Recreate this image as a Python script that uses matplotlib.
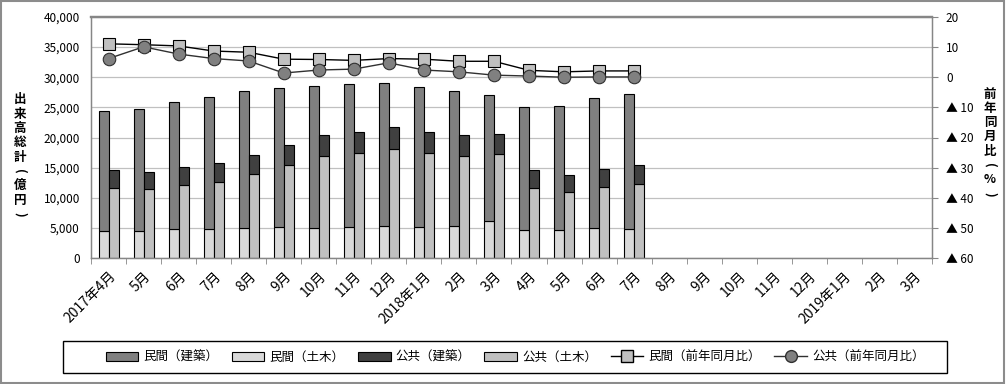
import matplotlib
matplotlib.use("Agg")
import matplotlib.pyplot as plt
import numpy as np
from matplotlib.patches import Rectangle, Patch
from matplotlib.lines import Line2D
from matplotlib.ticker import FuncFormatter, MultipleLocator, FixedLocator

plt.rcParams['font.family'] = ['Noto Sans CJK JP', 'DejaVu Sans']

months = ["2017年4月", "5月", "6月", "7月", "8月", "9月", "10月", "11月", "12月",
          "2018年1月", "2月", "3月", "4月", "5月", "6月", "7月", "8月", "9月",
          "10月", "11月", "12月", "2019年1月", "2月", "3月"]

# 億円
priv_civil = [4520, 4520, 4800, 4800, 4970, 5130, 4970, 5130, 5300, 5130, 5300, 6120, 4630, 4630, 4970, 4800]
priv_build = [19920, 20140, 21020, 21850, 22670, 23010, 23660, 23670, 23670, 23170, 22340, 20860, 20360, 20530, 21510, 22340]
pub_civil = [11590, 11420, 12080, 12580, 13900, 15390, 16880, 17380, 18040, 17380, 16880, 17210, 11590, 10920, 11750, 12250]
pub_build = [2980, 2810, 2980, 3140, 3150, 3310, 3480, 3480, 3640, 3480, 3480, 3310, 2980, 2820, 2980, 3140]
# 前年同月比 (%)
priv_yoy = [11.1, 10.8, 10.4, 8.7, 8.3, 6.0, 5.9, 5.6, 6.2, 6.0, 5.3, 5.3, 2.3, 1.8, 2.1, 2.1]
pub_yoy = [6.2, 10.1, 7.7, 6.2, 5.4, 1.4, 2.4, 2.7, 4.8, 2.4, 1.8, 0.7, 0.4, 0.0, 0.1, 0.1]

legend_labels = ["民間（建築）", "民間（土木）", "公共（建築）", "公共（土木）",
                 "民間（前年同月比）", "公共（前年同月比）"]
left_title = "出来高総計(億円)"
right_title = "前年同月比(%)"

c_pb = "#808080"
c_pc = "#d9d9d9"
c_gb = "#404040"
c_gc = "#c0c0c0"
axis_gray = "#868686"

W, H = 1006, 384
fig = plt.figure(figsize=(W / 100, H / 100), dpi=100)
fig.patch.set_facecolor("white")
fig.patches.append(Rectangle((0.001, 0.002), 0.997, 0.995, transform=fig.transFigure,
                             fill=False, edgecolor="#8c8c8c", lw=1.5))

ax = fig.add_axes([91 / W, 1 - 258 / H, (932 - 91) / W, (258 - 17) / H])
n = len(priv_civil)
x = np.arange(n)
bw = 0.285
off = bw / 2
ax.bar(x - off, priv_civil, bw, color=c_pc, edgecolor="black", lw=0.8, zorder=2)
ax.bar(x - off, priv_build, bw, bottom=priv_civil, color=c_pb, edgecolor="black", lw=0.8, zorder=2)
ax.bar(x + off, pub_civil, bw, color=c_gc, edgecolor="black", lw=0.8, zorder=2)
ax.bar(x + off, pub_build, bw, bottom=pub_civil, color=c_gb, edgecolor="black", lw=0.8, zorder=2)

ax.set_xlim(-0.5, len(months) - 0.5)
ax.set_ylim(0, 40000)
ax.yaxis.set_major_locator(MultipleLocator(5000))
ax.yaxis.set_major_formatter(FuncFormatter(lambda v, p: f"{int(v):,}"))
ax.grid(axis="y", color="#c0c0c0", lw=0.9)
ax.set_axisbelow(True)
ax.set_xticks(np.arange(len(months)))
ax.set_xticklabels(months, rotation=45, ha="right", rotation_mode="anchor", fontsize=10)
ax.xaxis.set_minor_locator(FixedLocator(np.arange(-0.5, len(months), 1.0)))
ax.tick_params(axis="x", which="major", length=0, pad=8)
ax.tick_params(axis="x", which="minor", length=4, color=axis_gray, direction="out")
ax.tick_params(axis="y", length=0, labelsize=8.5, pad=8)
for s in ax.spines.values():
    s.set_color(axis_gray)
    s.set_linewidth(1.0)
ax.spines["top"].set_linewidth(1.6)

ax2 = ax.twinx()
ax2.set_ylim(-60, 20)
ax2.yaxis.set_major_locator(MultipleLocator(10))
ax2.yaxis.set_major_formatter(FuncFormatter(
    lambda v, p: f"▲ {int(abs(v))}" if v < 0 else f"{int(v)}"))
ax2.tick_params(axis="y", length=4, color=axis_gray, labelsize=8.5, pad=6)
for s in ax2.spines.values():
    s.set_color(axis_gray)
ax2.spines["top"].set_linewidth(1.6)
ax2.plot(x, priv_yoy, color="black", lw=1.0, marker="s", markersize=8.5,
         markerfacecolor=c_gc, markeredgecolor="black", markeredgewidth=0.8, zorder=3)
ax2.plot(x, pub_yoy, color="#303030", lw=1.0, marker="o", markersize=9,
         markerfacecolor=c_pb, markeredgecolor="#303030", markeredgewidth=0.8, zorder=4)


def vertical_title(text, xpix, ytop, pitch):
    for i, ch in enumerate(text):
        rot = -90 if ch in "()" else 0
        fig.text(xpix / W, 1 - (ytop + i * pitch) / H, ch, ha="center", va="center",
                 fontsize=9, fontweight="bold", rotation=rot)


vertical_title(left_title, 20, 100, 14.3)
vertical_title(right_title, 990, 94, 14.3)

# legend
fig.patches.append(Rectangle((63 / W, 1 - 373 / H), (947 - 63) / W, 32 / H,
                             transform=fig.transFigure, fill=False, edgecolor="black", lw=1.0))
handles = [
    Patch(facecolor=c_pb, edgecolor="black", lw=0.8),
    Patch(facecolor=c_pc, edgecolor="black", lw=0.8),
    Patch(facecolor=c_gb, edgecolor="black", lw=0.8),
    Patch(facecolor=c_gc, edgecolor="black", lw=0.8),
    Line2D([], [], color="black", lw=1.0, marker="s", markersize=8,
           markerfacecolor=c_gc, markeredgecolor="black"),
    Line2D([], [], color="#303030", lw=1.0, marker="o", markersize=8.5,
           markerfacecolor=c_pb, markeredgecolor="#303030"),
]
fig.legend(handles, legend_labels, loc="center", ncol=6,
           bbox_to_anchor=((63 + 947) / 2 / W + 0.01, 1 - 357 / H),
           frameon=False, fontsize=9, handlelength=2.6, handleheight=0.75,
           handletextpad=0.4, columnspacing=1.1)

fig.savefig("out.png", dpi=100)
